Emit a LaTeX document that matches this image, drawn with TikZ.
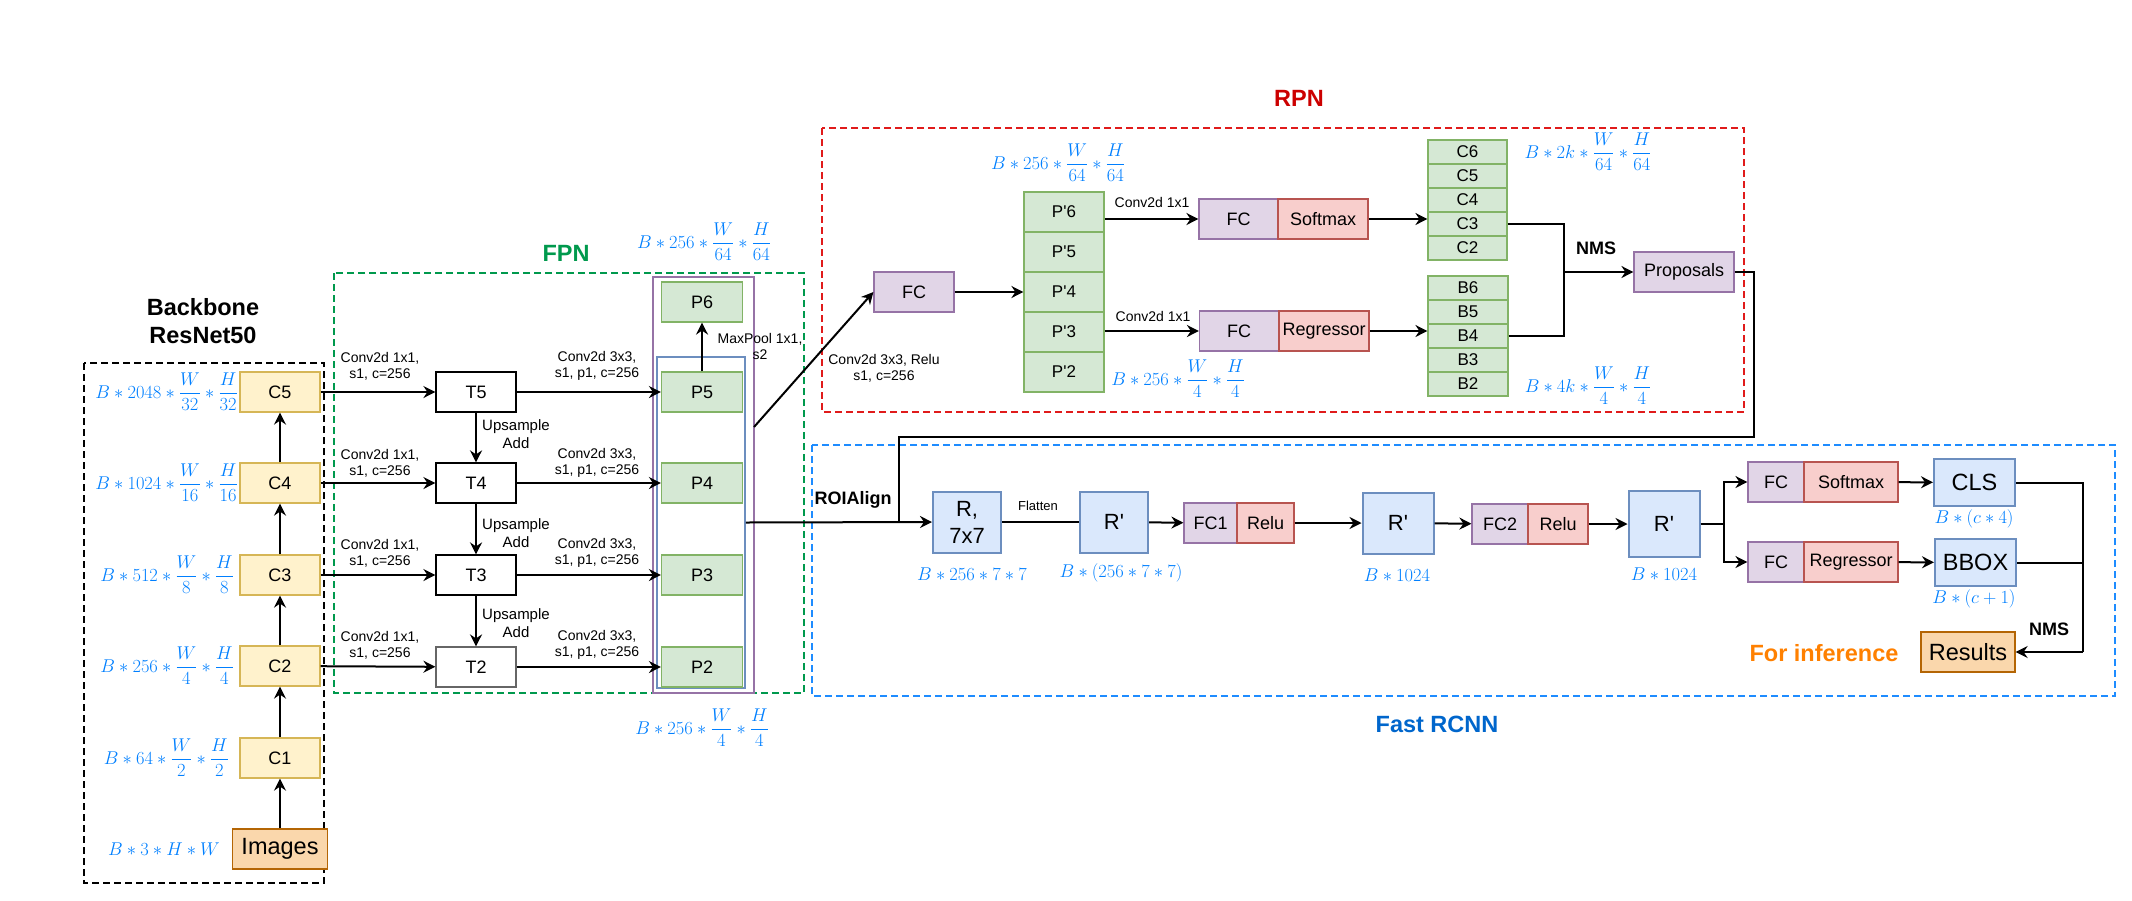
\RequirePackage{fix-cm}
\documentclass[tikz,border=0pt]{standalone}
\usepackage{amsmath}
\usepackage[no-math]{fontspec}
\setmainfont{Liberation Sans}
\usetikzlibrary{arrows.meta}
\definecolor{yfill}{HTML}{FFF2CC}
\definecolor{ydraw}{HTML}{D6B656}
\definecolor{ofill}{HTML}{FAD7AC}
\definecolor{odraw}{HTML}{B46504}
\definecolor{gfill}{HTML}{D5E8D4}
\definecolor{gdraw}{HTML}{82B366}
\definecolor{pfill}{HTML}{E1D5E7}
\definecolor{pdraw}{HTML}{9673A6}
\definecolor{rfill}{HTML}{F8CECC}
\definecolor{rdraw}{HTML}{B85450}
\definecolor{bfill}{HTML}{DAE8FC}
\definecolor{bdraw}{HTML}{6C8EBF}
\definecolor{dimblue}{HTML}{007FFF}
\definecolor{fpngreen}{HTML}{00994D}
\definecolor{rpnred}{HTML}{CC0000}
\definecolor{rpndash}{HTML}{E01B1B}
\definecolor{rcnnblue}{HTML}{0066CC}
\definecolor{rcnndash}{HTML}{1E8CFF}
\definecolor{inforange}{HTML}{FF8000}
\newcommand{\fsz}[2]{\fontsize{#1}{#2}\selectfont}

\begin{document}
\begin{tikzpicture}[x=1pt, y=-1pt,
    box/.style={draw, line width=1.2pt, minimum width=80, minimum height=40, inner sep=0pt, font=\fsz{18}{21}},
    ybox/.style={box, fill=yfill, draw=ydraw},
    obox/.style={box, fill=ofill, draw=odraw, font=\fsz{23.5}{27}},
    gbox/.style={box, fill=gfill, draw=gdraw},
    pbox/.style={box, fill=pfill, draw=pdraw},
    rbox/.style={box, fill=rfill, draw=rdraw},
    bluebox/.style={box, fill=bfill, draw=bdraw, line width=2pt, font=\fsz{22}{27}},
    tbox/.style={box, fill=white},
    lbl/.style={font=\fsz{14}{16}, align=center, inner sep=0pt},
    dim/.style={text=dimblue, font=\fsz{18.5}{22}, inner sep=0pt},
    title/.style={font=\bfseries\fsz{23.5}{28}, align=center},
    arr/.style={-{Stealth[length=12pt,width=12pt,inset=4pt]}, line width=2pt},
    ln/.style={line width=2pt},
    region/.style={line width=1.8pt, dash pattern=on 7pt off 4pt}]
    \useasboundingbox (0,0) rectangle (2132,900);

    % backbone
    \node[title] (bbt) at (203,321) {Backbone\\ResNet50};
    \draw[region] (84,363) rectangle (324,883);
    \foreach \i/\y in {5/392,4/483,3/575,2/666,1/758}
        \node[ybox] (c\i) at (280,\y) {C\i};
    \node[obox, minimum width=95] (img) at (280,849) {Images};
    \node[dim, anchor=east] (dc5) at (238,392) {$B*2048*\dfrac{W}{32}*\dfrac{H}{32}$};
    \node[dim, anchor=east] (dc4) at (238,483) {$B*1024*\dfrac{W}{16}*\dfrac{H}{16}$};
    \node[dim, anchor=east] (dc3) at (234,575) {$B*512*\dfrac{W}{8}*\dfrac{H}{8}$};
    \node[dim, anchor=east] (dc2) at (234,666) {$B*256*\dfrac{W}{4}*\dfrac{H}{4}$};
    \node[dim, anchor=east] (dc1) at (229,758) {$B*64*\dfrac{W}{2}*\dfrac{H}{2}$};
    \node[dim, anchor=east] (dimg) at (220,849) {$B*3*H*W$};
    \foreach \a/\b in {img/c1,c1/c2,c2/c3,c3/c4,c4/c5}
        \draw[arr] (\a) -- (\b);

    % FPN
    \draw[region, draw=fpngreen] (334,273) rectangle (804,693);
    \node[title, text=fpngreen] (fpnt) at (566,253) {FPN};
    \node[draw=pdraw, line width=2pt, minimum width=101, minimum height=416] (pgrp) at (703.5,485) {};
    \node[draw=bdraw, line width=1.8pt, minimum width=88, minimum height=331] (bgrp) at (701,522.5) {};
    \foreach \i/\y in {5/392,4/483,3/575}
        \node[tbox] (t\i) at (476,\y) {T\i};
    \node[tbox, draw=black!60] (t2) at (476,667) {T2};
    \foreach \i/\y in {6/302,5/392,4/483,3/575,2/667}
        \node[gbox, minimum width=81] (p\i) at (702,\y) {P\i};
    \foreach \i/\y in {5/366,4/463,3/553,2/645} {
        \node[lbl] (ca\i) at (380,\y) {Conv2d 1x1,\\s1, c=256};
        \node[lbl] (cb\i) at (597,\y) {Conv2d 3x3,\\s1, p1, c=256};
        \draw[arr] (c\i) -- (t\i);
        \draw[arr] (t\i) -- (p\i);
    }
    \foreach \a/\b/\y in {5/4/434,4/3/533,3/2/623} {
        \node[lbl, font=\fsz{15}{18}] (up\a) at (516,\y) {Upsample\\Add};
        \draw[arr] (t\a) -- (t\b);
    }
    \draw[arr] (p5) -- (p6);
    \node[lbl] (mp) at (760,346) {MaxPool 1x1,\\s2};
    \node[dim] (dp6) at (704,242) {$B*256*\dfrac{W}{64}*\dfrac{H}{64}$};
    \node[dim] (dp2) at (702,728) {$B*256*\dfrac{W}{4}*\dfrac{H}{4}$};

    % RPN
    \draw[region, draw=rpndash] (822,128) rectangle (1744,412);
    \node[title, text=rpnred] (rpnt) at (1299,98) {RPN};
    \node[pbox] (fcr) at (914,292) {FC};
    \node[lbl] (cvr) at (884,368) {Conv2d 3x3, Relu\\s1, c=256};
    \coordinate (dstart) at (754,427);
    \draw[arr] (dstart) -- (fcr.west);
    \foreach \k [count=\i] in {6,5,4,3,2}
        \node[gbox, font=\fsz{17}{20}] (pp\k) at (1064,172+40*\i) {P\textquotesingle\k};
    \draw[arr] (fcr) -- (pp4);
    \node[dim] (dpp6) at (1058,163) {$B*256*\dfrac{W}{64}*\dfrac{H}{64}$};
    \node[dim] (dpp2) at (1178,379) {$B*256*\dfrac{W}{4}*\dfrac{H}{4}$};
    \node[lbl] (cv6) at (1152,202) {Conv2d 1x1};
    \node[lbl] (cv3) at (1153,316) {Conv2d 1x1};
    \node[pbox, minimum width=79] (fcs) at (1238.5,219) {FC};
    \node[rbox, minimum width=90] (smx) at (1323,219) {Softmax};
    \node[pbox, minimum width=79] (fcg) at (1239,331) {FC};
    \node[rbox, minimum width=90] (rgs) at (1324,331) {Regressor};
    \draw[arr] (pp6.east |- fcs.west) -- (fcs.west);
    \draw[arr] (pp3.east |- fcg.west) -- (fcg.west);
    \foreach \k [count=\i] in {6,5,4,3,2} {
        \node[gbox, minimum width=79, minimum height=24, font=\fsz{17}{20}] (cc\k) at (1467.5,128+24*\i) {C\k};
        \node[gbox, minimum width=80, minimum height=24, font=\fsz{17}{20}] (bb\k) at (1468,264+24*\i) {B\k};
    }
    \draw[arr] (smx.east) -- (smx.east -| cc4.west);
    \draw[arr] (rgs.east) -- (rgs.east -| bb4.west);
    \node[dim] (dcc) at (1588,152) {$B*2k*\dfrac{W}{64}*\dfrac{H}{64}$};
    \node[dim] (dbb) at (1588,386) {$B*4k*\dfrac{W}{4}*\dfrac{H}{4}$};
    \coordinate (rjoin) at (1564,272);
    \node[pbox, minimum width=100] (prop) at (1684,272) {Proposals};
    \node[font=\bfseries\fsz{18}{21}] (nms1) at (1596,248) {NMS};
    \draw[ln] (cc3.east) -| (rjoin);
    \draw[ln] (bb4.east) -| (rjoin);
    \draw[arr] (rjoin) -- (prop.west);

    % Fast RCNN
    \draw[region, draw=rcnndash] (812,445) rectangle (2115,696);
    \node[title, text=rcnnblue] (rcnnt) at (1437,724) {Fast RCNN};
    \node[font=\bfseries\fsz{18}{21}] (roit) at (853,500) {ROIAlign};
    \coordinate (roi) at (899,522);
    \draw[ln] (prop.east) -| (1754,437) -| (roi);
    \node[bluebox, minimum width=68, minimum height=61, align=center] (r7) at (967,522) {R,\\7x7};
    \draw[arr] (bgrp.east) -- (r7.west);
    \node[lbl, font=\fsz{13}{15}] (flt) at (1038,506) {Flatten};
    \node[bluebox, minimum width=68, minimum height=61] (rp1) at (1114,522) {R\textquotesingle};
    \node[pbox, minimum width=53] (fc1) at (1210.5,523) {FC1};
    \node[rbox, minimum width=57] (relu1) at (1265.5,523) {Relu};
    \node[bluebox, minimum width=71, minimum height=61] (rp2) at (1398,523) {R\textquotesingle};
    \node[pbox, minimum width=56] (fc2) at (1500,524) {FC2};
    \node[rbox, minimum width=60] (relu2) at (1558,524) {Relu};
    \node[bluebox, minimum width=71, minimum height=66] (rp3) at (1664,524) {R\textquotesingle};
    \draw[ln] (r7) -- (rp1);
    \draw[arr] (rp1) -- (fc1);
    \draw[arr] (relu1) -- (rp2);
    \draw[arr] (rp2) -- (fc2);
    \draw[arr] (relu2) -- (rp3);
    \node[dim] (dr7) at (972,574) {$B*256*7*7$};
    \node[dim] (drp1) at (1121,573) {$B*(256*7*7)$};
    \node[dim] (drp2) at (1397,575) {$B*1024$};
    \node[dim] (drp3) at (1664,574) {$B*1024$};
    \coordinate (split) at (1724,524);
    \node[pbox, minimum width=56] (fcc) at (1776,482) {FC};
    \node[rbox, minimum width=94] (smc) at (1851,482) {Softmax};
    \node[pbox, minimum width=56] (fcb) at (1776,562) {FC};
    \node[rbox, minimum width=94] (rgb) at (1851,562) {Regressor};
    \draw[ln] (rp3.east) -- (split);
    \draw[arr] (split) |- (fcc.west);
    \draw[arr] (split) |- (fcb.west);
    \node[bluebox, minimum width=81, minimum height=47, font=\fsz{23.5}{27}] (cls) at (1974.5,482.5) {CLS};
    \node[bluebox, minimum width=81, minimum height=47, font=\fsz{23.5}{27}] (bbx) at (1975.5,562.5) {BBOX};
    \node[dim] (dcls) at (1974,519) {$B*(c*4)$};
    \node[dim] (dbbx) at (1974,599) {$B*(c+1)$};
    \draw[arr] (smc) -- (cls);
    \draw[arr] (rgb) -- (bbx);
    \node[obox, minimum width=94] (res) at (1968,652) {Results};
    \coordinate (fjoin) at (2083,652);
    \draw[ln] (cls.east) -| (fjoin);
    \draw[ln] (bbx.east) -- (bbx.east -| fjoin);
    \draw[arr] (fjoin) -- (res.east);
    \node[font=\bfseries\fsz{18}{21}] (nms2) at (2049,629) {NMS};
    \node[title, text=inforange] (inf) at (1824,653) {For inference};
\end{tikzpicture}
\end{document}
